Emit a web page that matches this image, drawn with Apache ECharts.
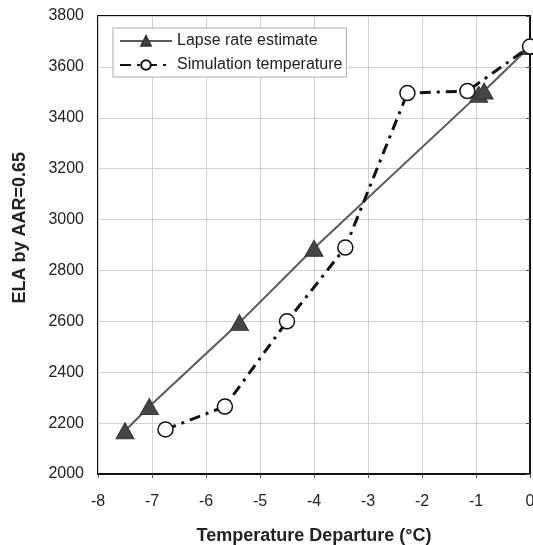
<!DOCTYPE html>
<html>
<head>
<meta charset="utf-8">
<script src="https://cdn.jsdelivr.net/npm/echarts@6/dist/echarts.min.js"></script>
<style>
html,body{margin:0;padding:0;background:#fff;}
#chart{width:533px;height:545px;}
</style>
</head>
<body>
<div id="chart"></div>
<script>
// Data
var lapseX = [-7.5, -7.05, -5.38, -4.0, -0.95, -0.85, 0];
var lapseY = [2170, 2265, 2595, 2887, 3492, 3505, 3680];
var simX = [-6.75, -5.65, -4.5, -3.42, -2.27, -1.16, 0];
var simY = [2175, 2265, 2600, 2890, 3497, 3505, 3680];
var xTicks = [-8, -7, -6, -5, -4, -3, -2, -1, 0];
var yTicks = [2000, 2200, 2400, 2600, 2800, 3000, 3200, 3400, 3600, 3800];
var seriesNames = ['Lapse rate estimate', 'Simulation temperature'];
var xTitle = 'Temperature Departure (°C)';
var yTitle = 'ELA by AAR=0.65';

function pairs(xs, ys) { return xs.map(function (x, i) { return [x, ys[i]]; }); }

var chart = echarts.init(document.getElementById('chart'), null, {renderer: 'canvas'});
var font = 'Liberation Sans, Arial, sans-serif';
chart.setOption({
  animation: false,
  backgroundColor: '#fff',
  textStyle: {fontFamily: font},
  grid: {left: 98, right: 3, top: 16, bottom: 71, outerBoundsMode: 'none', containLabel: false,
    show: true, borderColor: '#111', borderWidth: 2, backgroundColor: 'transparent'},
  legend: {
    left: 113, top: 28, orient: 'vertical',
    backgroundColor: '#fff', borderColor: '#aaa', borderWidth: 1,
    padding: [5, 4, 4, 6], itemGap: 8, itemWidth: 52, itemHeight: 12,
    textStyle: {fontFamily: font, fontSize: 16, color: '#222'},
    data: seriesNames
  },
  graphic: [{
    type: 'text', left: 11, top: 152, rotation: Math.PI / 2,
    style: {text: yTitle, fontFamily: font, fontSize: 18, fontWeight: 'bold', fill: '#222'}
  }],
  xAxis: {
    type: 'value', min: xTicks[0], max: xTicks[xTicks.length - 1], interval: 1,
    name: xTitle, nameLocation: 'middle', nameGap: 53,
    nameTextStyle: {fontFamily: font, fontSize: 18, fontWeight: 'bold', color: '#222'},
    axisLine: {show: true, onZero: false, lineStyle: {color: '#111', width: 2}},
    axisTick: {show: true, length: 4, lineStyle: {color: '#555'}},
    axisLabel: {fontFamily: font, fontSize: 16, color: '#222', margin: 20,
      formatter: function (v) { return xTicks.indexOf(v) >= 0 ? String(v) : ''; }},
    splitLine: {show: true, lineStyle: {color: '#d0d0d0', width: 1}}
  },
  yAxis: {
    type: 'value', min: yTicks[0], max: yTicks[yTicks.length - 1], interval: 200,
    axisLine: {show: true, lineStyle: {color: '#111', width: 2}},
    axisTick: {show: true, length: 4, lineStyle: {color: '#555'}},
    axisLabel: {fontFamily: font, fontSize: 16, color: '#222', margin: 14,
      formatter: function (v) { return String(v); }},
    splitLine: {show: true, lineStyle: {color: '#d0d0d0', width: 1}}
  },
  series: [
    {
      name: seriesNames[0], type: 'line', data: pairs(lapseX, lapseY),
      symbol: 'triangle', symbolSize: [18, 16],
      lineStyle: {color: '#5a5a5a', width: 2, type: 'solid'},
      itemStyle: {color: '#454545', borderColor: '#333', borderWidth: 1},
      z: 2
    },
    {
      name: seriesNames[1], type: 'line', data: pairs(simX, simY),
      symbol: 'circle', symbolSize: 15,
      lineStyle: {color: '#111', width: 3, type: [11, 6, 3, 6]},
      itemStyle: {color: '#fff', borderColor: '#111', borderWidth: 1.5},
      z: 3
    }
  ]
});
</script>
</body>
</html>
